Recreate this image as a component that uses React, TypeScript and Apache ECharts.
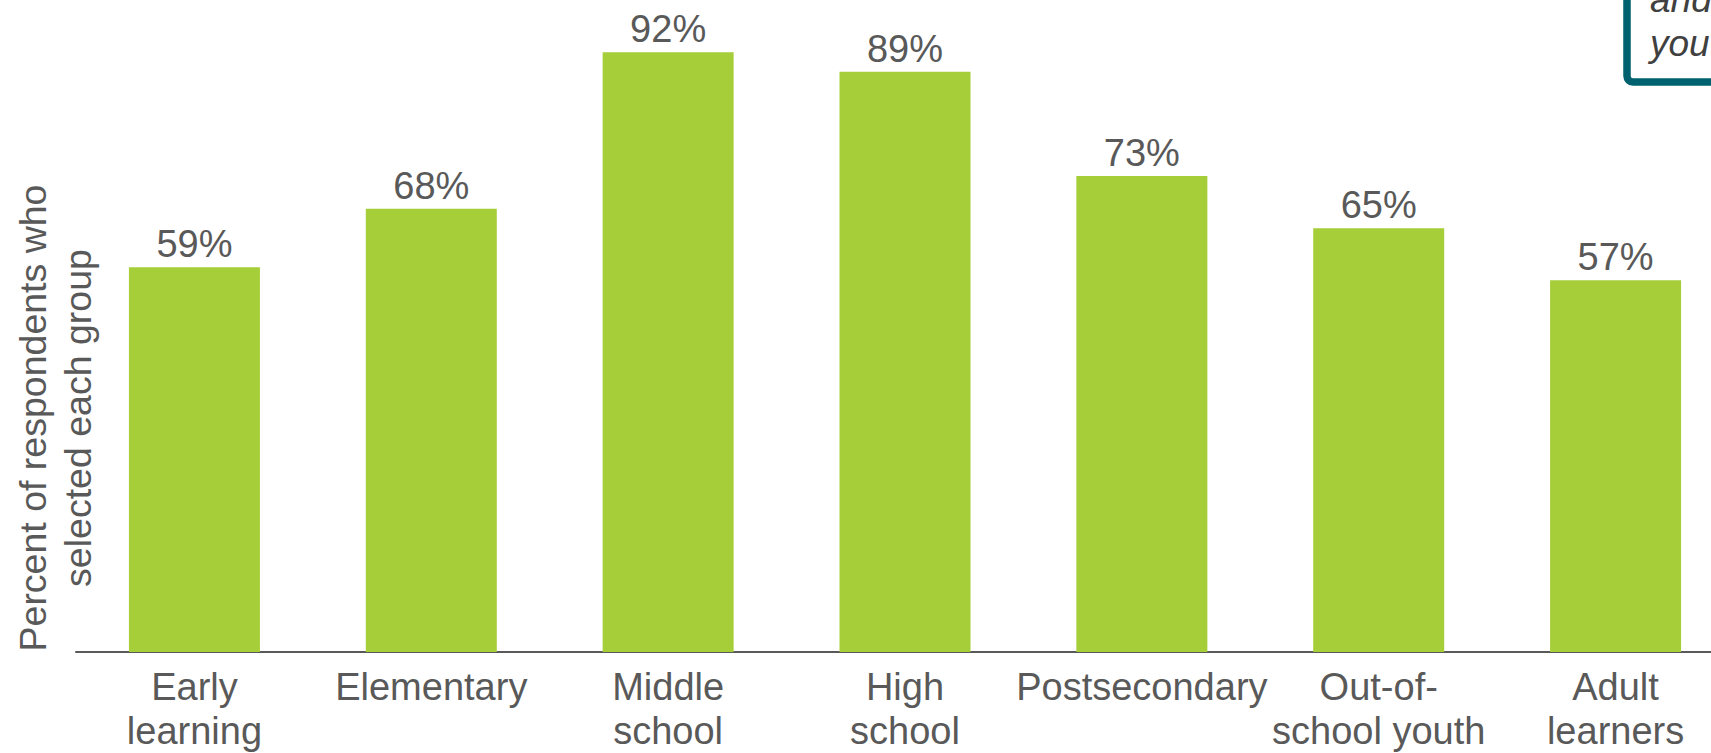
import React, { useEffect, useRef } from "react";
import * as echarts from "echarts";

const categories = [
  "Early\nlearning",
  "Elementary",
  "Middle\nschool",
  "High\nschool",
  "Postsecondary",
  "Out-of-\nschool youth",
  "Adult\nlearners",
];
const values = [59, 68, 92, 89, 73, 65, 57];
const yAxisName = "Percent of respondents who\nselected each group";
const boxText = "and\nyouth";

const GREY = "#595959";
const GREEN = "#A6CE39";
const TEAL = "#00616F";
const FONT = "'Liberation Sans', Arial, sans-serif";

export default function App() {
  const ref = useRef<HTMLDivElement>(null);
  useEffect(() => {
    if (!ref.current) return;
    const chart = echarts.init(ref.current, undefined, { renderer: "svg" });
    chart.setOption({
      animation: false,
      backgroundColor: "#ffffff",
      grid: { left: 76, top: -2.2, width: 1658, height: 654.7, containLabel: false },
      xAxis: {
        type: "category",
        data: categories,
        axisTick: { show: false },
        axisLine: { show: true, lineStyle: { color: GREY, width: 2 } },
        axisLabel: {
          interval: 0,
          margin: 13,
          fontSize: 38,
          lineHeight: 44,
          color: GREY,
          fontFamily: FONT,
        },
        splitLine: { show: false },
      },
      yAxis: {
        type: "value",
        min: 0,
        max: 100,
        show: false,
        splitLine: { show: false },
      },
      series: [
        {
          type: "bar",
          data: values,
          barWidth: 131,
          itemStyle: { color: GREEN },
          label: {
            show: true,
            position: "top",
            distance: 4,
            formatter: "{c}%",
            fontSize: 38,
            color: GREY,
            fontFamily: FONT,
          },
        },
      ],
      graphic: [
        {
          type: "text",
          x: 55,
          y: 418,
          rotation: Math.PI / 2,
          style: {
            text: yAxisName,
            fontSize: 37.5,
            lineHeight: 45,
            fill: GREY,
            fontFamily: FONT,
            textAlign: "center",
            verticalAlign: "middle",
          },
        },
        {
          type: "rect",
          shape: { x: 1627, y: -60, width: 200, height: 142, r: 6 },
          style: { fill: "#ffffff", stroke: TEAL, lineWidth: 7.5 },
        },
        {
          type: "text",
          x: 1650,
          y: 65,
          style: {
            text: boxText,
            fontSize: 37,
            lineHeight: 44,
            fontStyle: "italic",
            fill: "#404040",
            fontFamily: FONT,
            textAlign: "left",
            verticalAlign: "bottom",
          },
        },
      ],
    });
    return () => chart.dispose();
  }, []);
  return (
    <div style={{ position: "absolute", left: 0, top: 0, width: 1711, height: 753, overflow: "hidden" }}>
      <div ref={ref} style={{ position: "absolute", left: 0, top: 0, width: 1740, height: 753 }} />
    </div>
  );
}
